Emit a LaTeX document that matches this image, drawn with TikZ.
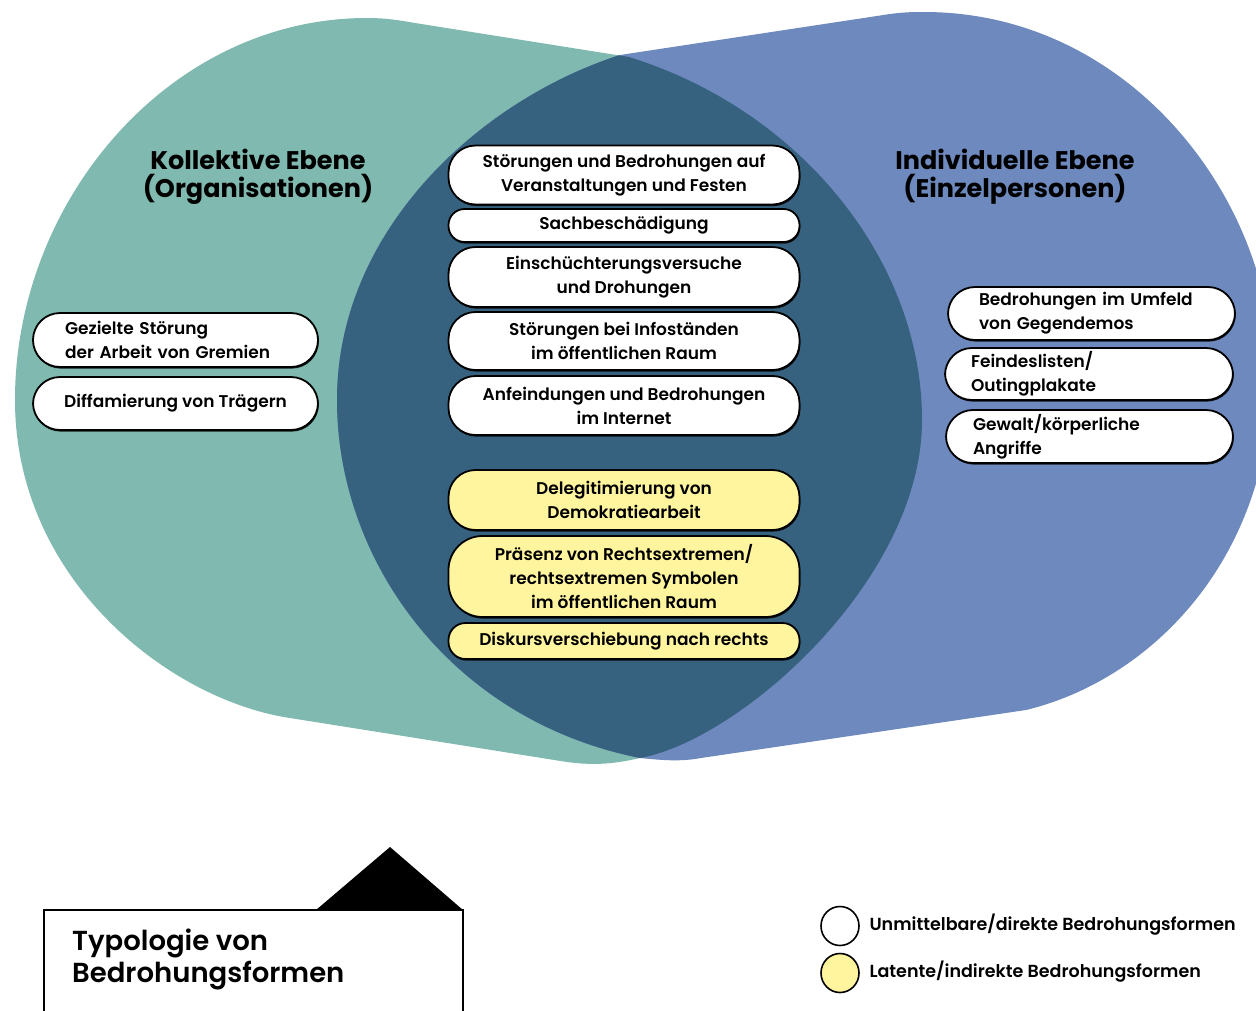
\documentclass[tikz,border=0pt]{standalone}
\usepackage{fontspec}
\setmainfont{Poppins}[BoldFont={Poppins SemiBold}]
\newfontfamily\headfont{Poppins Bold}
\usetikzlibrary{shapes.misc,shapes.geometric,shadows}
\definecolor{tealc}{HTML}{7FB9AF}
\definecolor{bluec}{HTML}{6E89BE}
\definecolor{darkc}{HTML}{366280}
\definecolor{yellowc}{HTML}{FFF59F}
\newcommand\tealshape{(629,57) .. controls (800,110) and (922,260) .. (922,420)
  .. controls (922,580) and (740,740) .. (640,758)
  .. controls (610,765) and (590,765) .. (567,762)
  -- (290,718)
  .. controls (170,700) and (15,580) .. (15,400)
  .. controls (15,200) and (170,18) .. (367,18)
  .. controls (385,18) and (398,20) .. (415,23) -- cycle}
\newcommand\blueshape{(620,55) -- (890,14) .. controls (905,12) and (915,12) .. (924,12)
  .. controls (1130,12) and (1272,200) .. (1272,370)
  .. controls (1272,560) and (1150,680) .. (1026,710)
  -- (701,758) .. controls (680,762) and (660,760) .. (640,758)
  .. controls (450,720) and (337,560) .. (337,400)
  .. controls (337,230) and (480,100) .. (620,55) -- cycle}
\begin{document}
\begin{tikzpicture}[x=1pt,y=-1pt,
  box/.style={draw=black, line width=1.8pt, fill=white, rounded corners=#1, inner sep=0pt, align=center, font=\bfseries\fontsize{17}{24}\selectfont, text=black,
    drop shadow={shadow xshift=0.8pt, shadow yshift=-1.6pt, fill=black, opacity=0.85}},
  box/.default=27pt,
  ybox/.style={box=#1, fill=yellowc},
  ybox/.default=27pt,
  heading/.style={font=\headfont\fontsize{25.5}{28}\selectfont, align=center, text=black},
  legtext/.style={font=\bfseries\fontsize{17.5}{20}\selectfont, anchor=west, text=black},
]
\useasboundingbox (0,0) rectangle (1256,1010);
\clip (0,0) rectangle (1256,1010);
\fill[white] (0,0) rectangle (1256,1010);
% blobs
\fill[tealc] \tealshape;
\fill[bluec] \blueshape;
\begin{scope}
  \clip \tealshape;
  \fill[darkc] \blueshape;
\end{scope}
% headings
\node[heading] (hk) at (258,177) {Kollektive Ebene\\(Organisationen)};
\node[heading] (hi) at (1015,177) {Individuelle Ebene\\(Einzelpersonen)};
% centre boxes
\node[box, minimum width=351pt, minimum height=59pt] (c1) at (624,175) {Störungen und Bedrohungen auf\\Veranstaltungen und Festen};
\node[box=16pt, minimum width=351pt, minimum height=33pt] (c2) at (624,225.5) {Sachbeschädigung};
\node[box, minimum width=351pt, minimum height=60pt] (c3) at (624,277) {Einschüchterungsversuche\\und Drohungen};
\node[box, minimum width=351pt, minimum height=58pt] (c4) at (624,341) {Störungen bei Infoständen\\im öffentlichen Raum};
\node[box, minimum width=351pt, minimum height=59pt] (c5) at (624,405.5) {Anfeindungen und Bedrohungen\\im Internet};
\node[ybox, minimum width=351pt, minimum height=60pt] (y1) at (624,500) {Delegitimierung von\\Demokratiearbeit};
\node[ybox=34pt, minimum width=351pt, minimum height=81pt] (y2) at (624,576.5) {Präsenz von Rechtsextremen/\\rechtsextremen Symbolen\\im öffentlichen Raum};
\node[ybox=17pt, minimum width=351pt, minimum height=36pt] (y3) at (624,641) {Diskursverschiebung nach rechts};
% left boxes
\node[box, minimum width=285pt, minimum height=54pt, text width=221pt, align=left] (l1) at (175.5,340) {Gezielte Störung\\der Arbeit von Gremien};
\node[box, minimum width=285pt, minimum height=53pt] (l2) at (175.5,403.5) {Diffamierung von Trägern};
% right boxes
\node[box, minimum width=287pt, minimum height=53pt, text width=225pt, align=left] (r1) at (1091.5,313.5) {Bedrohungen im Umfeld\\von Gegendemos};
\node[box, minimum width=288pt, minimum height=52pt, text width=236pt, align=left] (r2) at (1089,374) {Feindeslisten/\\Outingplakate};
\node[box, minimum width=287pt, minimum height=53pt, text width=233pt, align=left] (r3) at (1089.5,436.5) {Gewalt/körperliche\\Angriffe};
% title box
\fill[black] (316,910) -- (390,847) -- (463,910) -- cycle;
\draw[line width=2pt] (44,1020) -- (44,910) -- (463,910) -- (463,1020);
\node[font=\bfseries\fontsize{27.5}{32}\selectfont, align=left, anchor=north west, inner sep=0pt, text=black] (title) at (72,929) {Typologie von\\Bedrohungsformen};
% legend
\node[draw=black, line width=1.6pt, fill=white, ellipse, minimum width=38pt, minimum height=39pt, inner sep=0pt] (lw) at (840,926) {};
\node[draw=black, line width=1.6pt, fill=yellowc, ellipse, minimum width=38pt, minimum height=39pt, inner sep=0pt] (ly) at (840,973) {};
\node[legtext] (lwt) at (866,925) {Unmittelbare/direkte Bedrohungsformen};
\node[legtext] (lyt) at (866,972) {Latente/indirekte Bedrohungsformen};
\end{tikzpicture}
\end{document}
